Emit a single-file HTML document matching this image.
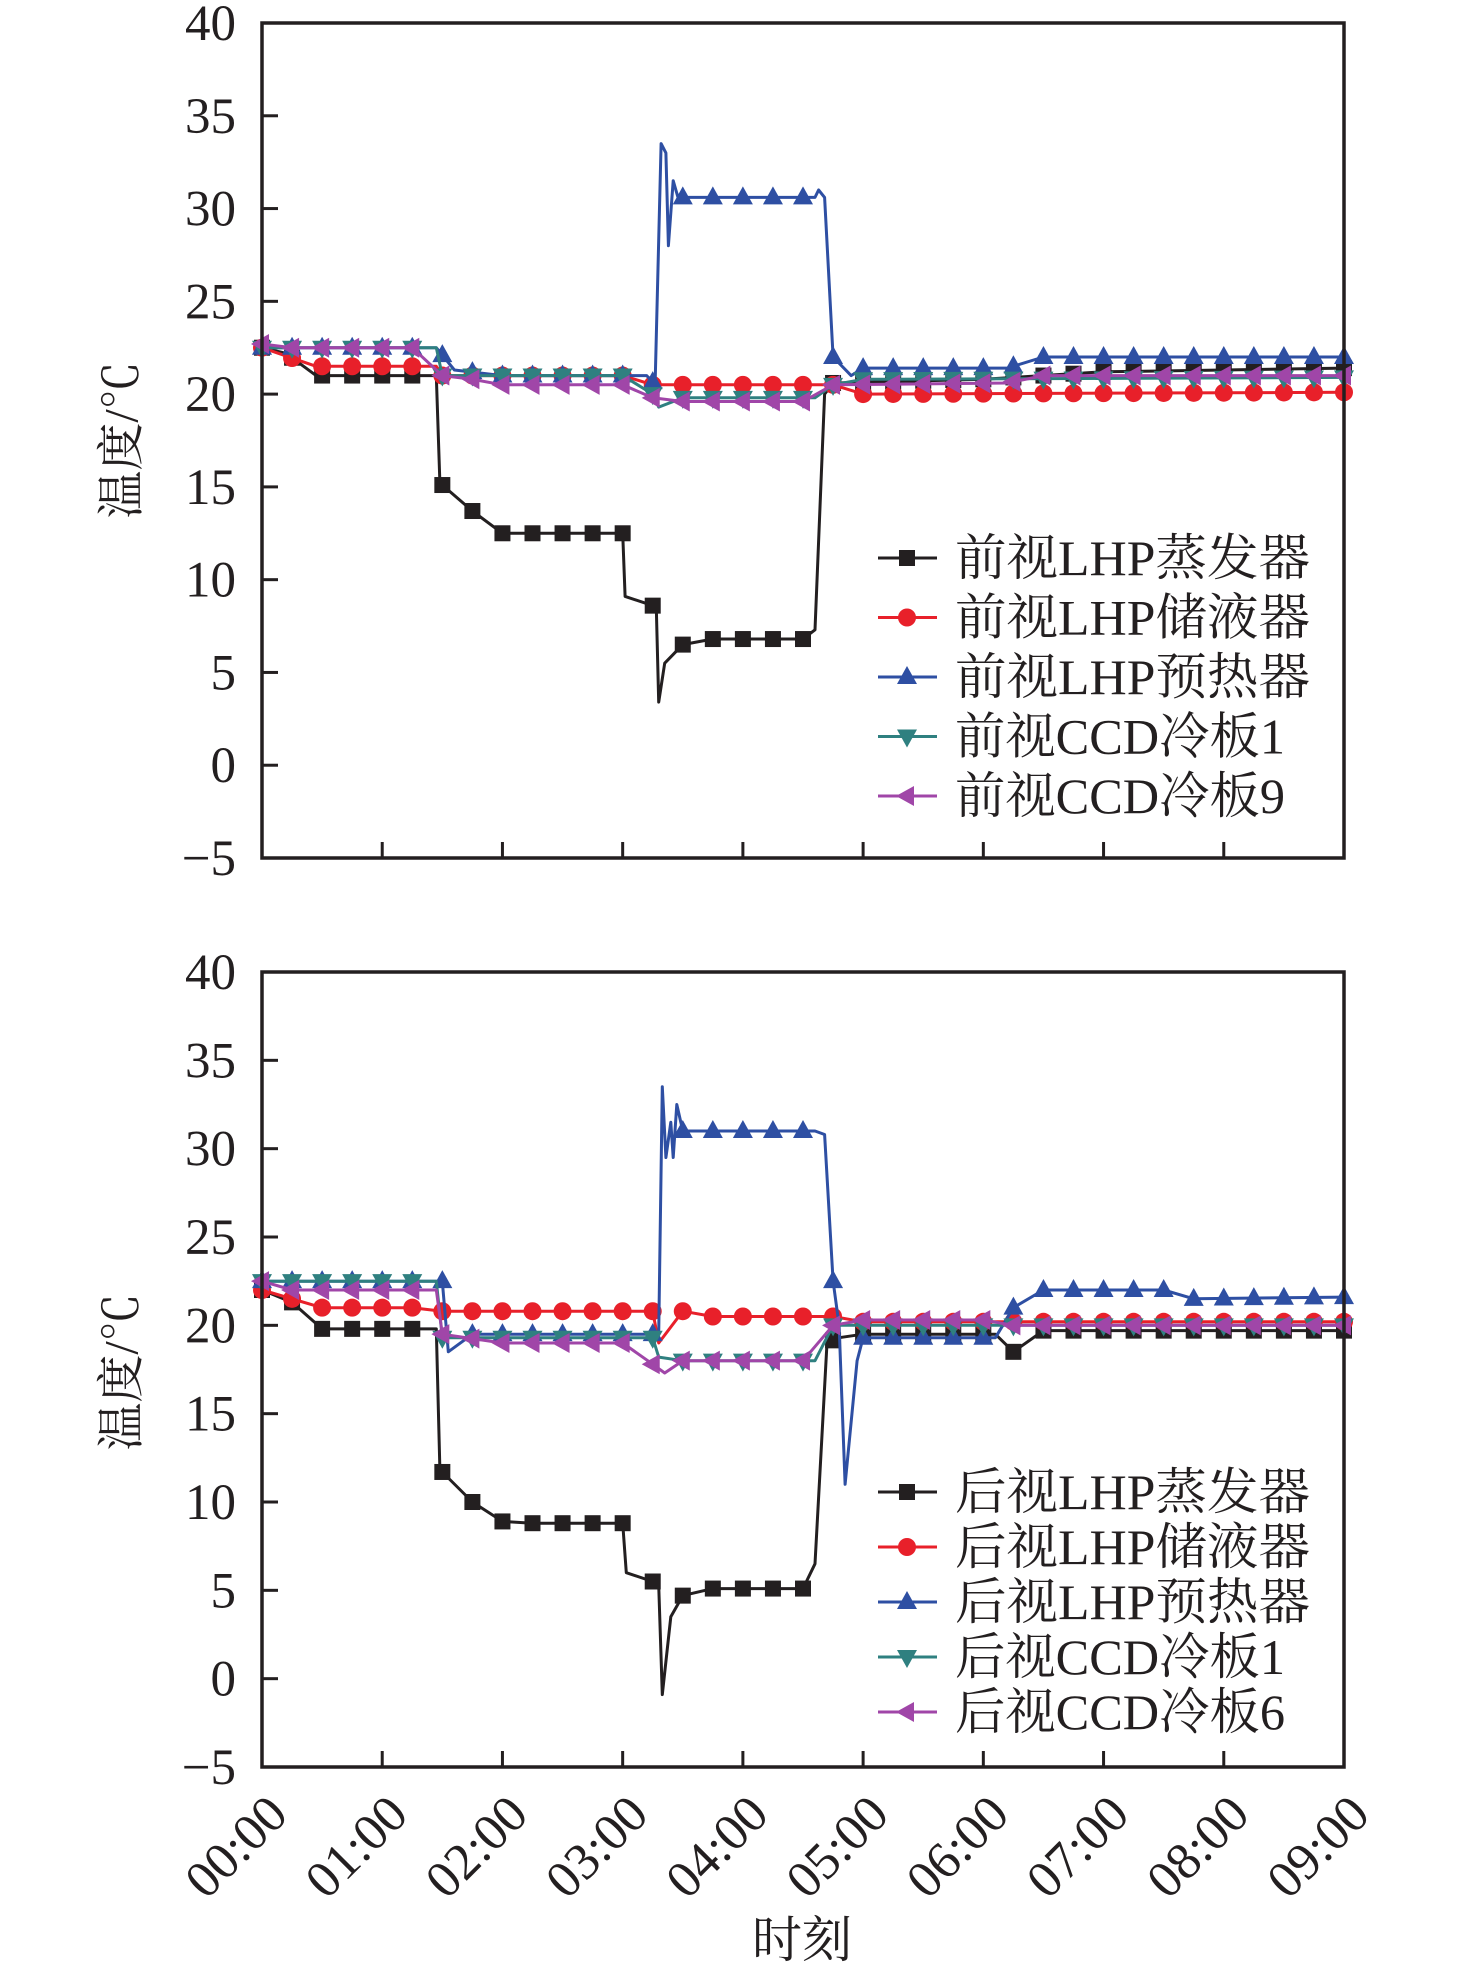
<!DOCTYPE html>
<html><head><meta charset="utf-8">
<style>
html,body{margin:0;padding:0;background:#fff;}
svg{display:block;}
text{font-family:"Liberation Serif","Noto Serif CJK SC",serif;fill:#231f20;}
</style></head>
<body>
<svg id="fig" width="1476" height="1974" viewBox="0 0 1476 1974" xmlns="http://www.w3.org/2000/svg"></svg>
<script>
// ---- data (time in hours, temperature in °C) ----
const yTicks = [40,35,30,25,20,15,10,5,0,-5];
const yTickLabels = ["40","35","30","25","20","15","10","5","0","\u22125"];
const xTicks = [0,1,2,3,4,5,6,7,8,9];
const xTickLabels = ["00:00","01:00","02:00","03:00","04:00","05:00","06:00","07:00","08:00","09:00"];

const topNames = ["前视LHP蒸发器","前视LHP储液器","前视LHP预热器","前视CCD冷板1","前视CCD冷板9"];
const botNames = ["后视LHP蒸发器","后视LHP储液器","后视LHP预热器","后视CCD冷板1","后视CCD冷板6"];

const topEvap = [[0,22.5],[0.2,22.2],[0.45,21],[1.45,21],[1.48,15.2],[1.5,15.1],[1.75,13.7],[2.0,12.5],[3.0,12.5],[3.02,9.1],[3.25,8.6],[3.28,8.5],[3.3,3.4],[3.35,5.5],[3.5,6.5],[3.75,6.8],[4.5,6.8],[4.6,7.3],[4.68,20],[4.75,20.6],[6,20.8],[7,21.2],[8,21.3],[9,21.4]];
const topRes = [[0,22.5],[0.45,21.5],[1.45,21.5],[1.5,21],[3.0,21],[3.25,20.5],[4.6,20.5],[4.75,20.5],[5,20],[9,20.1]];
const topPre = [[0,22.5],[1.45,22.5],[1.6,21.3],[2,21],[3.2,21],[3.27,20.5],[3.32,33.5],[3.36,33],[3.38,28],[3.42,31.5],[3.46,30.6],[4.6,30.6],[4.63,31],[4.68,30.6],[4.75,22],[4.9,21],[5,21.4],[6.2,21.4],[6.5,22],[9,22]];
const topCcd1 = [[0,22.5],[1.45,22.5],[1.5,21],[3.0,21],[3.25,20],[3.3,19.3],[3.5,19.8],[4.6,19.8],[4.75,20.5],[5,20.8],[9,20.9]];
const topCcd9 = [[0,22.7],[0.25,22.5],[1.25,22.5],[1.5,21],[1.75,20.8],[2,20.5],[3,20.5],[3.25,19.8],[3.5,19.6],[4.5,19.6],[4.75,20.5],[6.2,20.6],[6.5,21],[9,21]];

const botEvap = [[0,22],[0.25,21.3],[0.5,19.8],[1.45,19.8],[1.48,11.8],[1.5,11.7],[1.75,10],[2.0,8.9],[2.25,8.8],[3.0,8.8],[3.03,6],[3.25,5.5],[3.3,5.3],[3.33,-0.9],[3.4,3.5],[3.5,4.7],[3.75,5.1],[4.5,5.1],[4.6,6.5],[4.7,19],[4.8,19.3],[5,19.5],[6.1,19.5],[6.25,18.5],[6.5,19.7],[9,19.7]];
const botRes = [[0,22],[0.5,21],[1.25,21],[1.5,20.8],[3.25,20.8],[3.3,19],[3.5,20.8],[3.75,20.5],[4.5,20.5],[4.75,20.5],[5,20.2],[9,20.2]];
const botPre = [[0,22.5],[1.5,22.5],[1.55,18.5],[1.75,19.5],[3.25,19.5],[3.3,19.5],[3.33,33.5],[3.36,29.5],[3.4,31.5],[3.42,29.5],[3.45,32.5],[3.5,31],[4.6,31],[4.68,30.8],[4.75,22.5],[4.8,20],[4.85,11],[4.95,18],[5,19.3],[6.1,19.3],[6.25,21],[6.5,22],[7.5,22],[7.75,21.5],[9,21.6]];
const botCcd1 = [[0,22.5],[1.45,22.5],[1.5,19.3],[3.25,19.3],[3.3,18.2],[3.5,18],[4.6,18],[4.75,20],[9,20]];
const botCcd6 = [[0,22.5],[0.25,22],[1.45,22],[1.5,19.5],[2,19],[3,19],[3.25,17.8],[3.35,17.3],[3.5,18],[4.5,18],[4.75,20],[5,20.3],[6,20.3],[6.25,20],[9,20]];

// ---- drawing ----
const NS = "http://www.w3.org/2000/svg";
const svg = document.getElementById('fig');
const X0 = 262, X1 = 1344;
const colors = ["#231f20","#e8202a","#2e4fa3","#2f8080","#a046a8"];
const shapes = ["square","circle","up","down","left"];

function mk(tag, attrs, parent){
  const e = document.createElementNS(NS, tag);
  for (const k in attrs) e.setAttribute(k, attrs[k]);
  (parent||svg).appendChild(e);
  return e;
}
function xs(t){ return X0 + (t/9)*(X1-X0); }
function interp(arr, t){
  for (let i=0;i<arr.length-1;i++){
    if (t>=arr[i][0] && t<=arr[i+1][0]){
      const f=(t-arr[i][0])/((arr[i+1][0]-arr[i][0])||1);
      return arr[i][1]+f*(arr[i+1][1]-arr[i][1]);
    }
  }
  return arr[arr.length-1][1];
}
function marker(g, shape, cx, cy, col){
  let e;
  if (shape==="square") e = mk('rect',{x:cx-8,y:cy-8,width:16,height:16,fill:col},g);
  else if (shape==="circle") e = mk('circle',{cx:cx,cy:cy,r:9,fill:col},g);
  else if (shape==="up") e = mk('polygon',{points:`${cx},${cy-11} ${cx+10},${cy+7} ${cx-10},${cy+7}`,fill:col},g);
  else if (shape==="down") e = mk('polygon',{points:`${cx},${cy+11} ${cx+10},${cy-7} ${cx-10},${cy-7}`,fill:col},g);
  else e = mk('polygon',{points:`${cx-11},${cy} ${cx+7},${cy-10} ${cx+7},${cy+10}`,fill:col},g);
  
  
}

function panel(name, Y0, Y1, series, names, legY, legStep, titleY, showX){
  const g = mk('g',{});
  
  
  const ys = v => Y0 + (40 - v)/45*(Y1-Y0);
  series.forEach((arr,i)=>{
    const sg = mk('g',{},g);
    
    
    const pl = mk('polyline',{points:arr.map(p=>xs(p[0]).toFixed(1)+','+ys(p[1]).toFixed(1)).join(' '),fill:'none',stroke:colors[i],'stroke-width':3,'stroke-linejoin':'round'},sg);
    
    
    for (let t=0;t<=9.001;t+=0.25){
      marker(sg, shapes[i], xs(t), ys(interp(arr,t)), colors[i]);
    }
  });
  const fr = mk('rect',{x:X0,y:Y0,width:X1-X0,height:Y1-Y0,fill:'none',stroke:'#231f20','stroke-width':3.5},g);
  
  
  yTicks.forEach((v,i)=>{
    const y=ys(v);
    if (i>0 && i<yTicks.length-1){
      const tk=mk('line',{x1:X0,x2:X0+16,y1:y,y2:y,stroke:'#231f20','stroke-width':3},g);
      
      
    }
    const tx=mk('text',{x:236,y:y+17,'text-anchor':'end','font-size':51},g);
    tx.textContent=yTickLabels[i];
    
    
  });
  xTicks.forEach((t,i)=>{
    const x=xs(t);
    if (i>0 && i<xTicks.length-1){
      const tk=mk('line',{x1:x,x2:x,y1:Y1,y2:Y1-16,stroke:'#231f20','stroke-width':3},g);
      
      
    }
    if (showX){
      const ax=x+28, ay=Y1+50;
      const tx=mk('text',{x:ax,y:ay,'text-anchor':'end','font-size':52,transform:`rotate(-45 ${ax} ${ay})`},g);
      tx.textContent=xTickLabels[i];
      
      
    }
  });
  const yt=mk('text',{x:122,y:titleY,'text-anchor':'middle','font-size':48,transform:`rotate(-90 122 ${titleY})`,'dominant-baseline':'central'},g);
  yt.textContent='温度/℃';
  
  
  names.forEach((n,i)=>{
    const y=legY+i*legStep;
    const lg=mk('g',{},g);
    
    
    mk('line',{x1:878,x2:937,y1:y,y2:y,stroke:colors[i],'stroke-width':3},lg);
    marker(lg, shapes[i], 907, y, colors[i]);
    const tx=mk('text',{x:955,y:y+17,'font-size':50,'textLength':(n.indexOf('LHP')>=0?355:330),'lengthAdjust':'spacingAndGlyphs'},lg);
    tx.textContent=n;
  });
}

panel('top-chart', 23, 858, [topEvap,topRes,topPre,topCcd1,topCcd9], topNames, 558, 59.5, 440, false);
panel('bottom-chart', 972, 1767, [botEvap,botRes,botPre,botCcd1,botCcd6], botNames, 1492, 55, 1372, true);

const xt=mk('text',{x:802,y:1957,'text-anchor':'middle','font-size':50});
xt.textContent='时刻';


</script>
</body></html>
